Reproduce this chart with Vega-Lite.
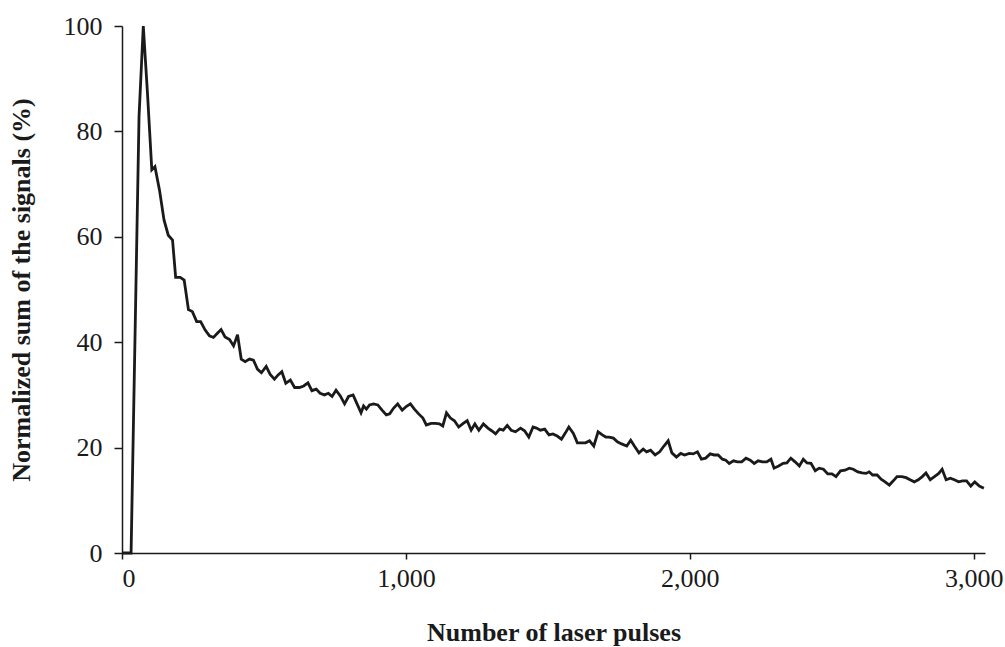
{
  "$schema": "https://vega.github.io/schema/vega-lite/v6.json",
  "width": 863,
  "height": 527,
  "autosize": {"type": "none"},
  "padding": {"left": 122, "top": 26, "right": 20, "bottom": 94},
  "background": "white",
  "config": {
    "view": {"stroke": null},
    "font": "Liberation Serif",
    "axis": {
      "grid": false,
      "domainColor": "#1a1a1a",
      "domainWidth": 1.5,
      "tickColor": "#1a1a1a",
      "tickWidth": 1.5,
      "tickSize": 8,
      "labelFont": "Liberation Serif",
      "labelFontSize": 26,
      "labelColor": "#1a1a1a",
      "titleFont": "Liberation Serif",
      "titleFontSize": 26,
      "titleFontWeight": "bold",
      "titleColor": "#1a1a1a"
    }
  },
  "data": {
    "values": [
      {"pulses": 0, "signal": 0}, {"pulses": 15, "signal": 0}, {"pulses": 32, "signal": 0},
      {"pulses": 60, "signal": 82.8}, {"pulses": 75, "signal": 100}, {"pulses": 90, "signal": 87},
      {"pulses": 105, "signal": 72.7}, {"pulses": 116, "signal": 73.3}, {"pulses": 132, "signal": 68.9},
      {"pulses": 148, "signal": 63.2}, {"pulses": 163, "signal": 60.3}, {"pulses": 178, "signal": 59.4},
      {"pulses": 189, "signal": 52.3}, {"pulses": 205, "signal": 52.3}, {"pulses": 219, "signal": 51.8},
      {"pulses": 234, "signal": 46.2}, {"pulses": 248, "signal": 45.8}, {"pulses": 263, "signal": 43.9},
      {"pulses": 277, "signal": 43.9}, {"pulses": 293, "signal": 42.3}, {"pulses": 308, "signal": 41.2},
      {"pulses": 322, "signal": 40.9}, {"pulses": 336, "signal": 41.7}, {"pulses": 349, "signal": 42.4},
      {"pulses": 363, "signal": 41.0}, {"pulses": 379, "signal": 40.5}, {"pulses": 393, "signal": 39.3},
      {"pulses": 407, "signal": 41.4}, {"pulses": 420, "signal": 36.8}, {"pulses": 434, "signal": 36.3},
      {"pulses": 449, "signal": 36.8}, {"pulses": 463, "signal": 36.6}, {"pulses": 477, "signal": 34.9},
      {"pulses": 491, "signal": 34.2}, {"pulses": 508, "signal": 35.4}, {"pulses": 522, "signal": 33.9},
      {"pulses": 537, "signal": 33.0}, {"pulses": 550, "signal": 33.8}, {"pulses": 563, "signal": 34.4},
      {"pulses": 577, "signal": 32.2}, {"pulses": 593, "signal": 32.8}, {"pulses": 608, "signal": 31.4},
      {"pulses": 625, "signal": 31.4}, {"pulses": 640, "signal": 31.7}, {"pulses": 655, "signal": 32.3},
      {"pulses": 669, "signal": 30.8}, {"pulses": 684, "signal": 31.1}, {"pulses": 698, "signal": 30.3},
      {"pulses": 713, "signal": 30.0}, {"pulses": 727, "signal": 30.3}, {"pulses": 740, "signal": 29.7},
      {"pulses": 754, "signal": 30.9}, {"pulses": 769, "signal": 29.8}, {"pulses": 784, "signal": 28.3},
      {"pulses": 798, "signal": 29.7}, {"pulses": 814, "signal": 30.0}, {"pulses": 828, "signal": 28.3},
      {"pulses": 842, "signal": 26.6}, {"pulses": 851, "signal": 27.9}, {"pulses": 861, "signal": 27.3},
      {"pulses": 872, "signal": 28.1}, {"pulses": 886, "signal": 28.3}, {"pulses": 901, "signal": 28.1},
      {"pulses": 916, "signal": 27.1}, {"pulses": 931, "signal": 26.2}, {"pulses": 943, "signal": 26.4},
      {"pulses": 957, "signal": 27.5}, {"pulses": 971, "signal": 28.3}, {"pulses": 987, "signal": 27.1},
      {"pulses": 1001, "signal": 27.8}, {"pulses": 1016, "signal": 28.3}, {"pulses": 1030, "signal": 27.3},
      {"pulses": 1045, "signal": 26.4}, {"pulses": 1060, "signal": 25.6}, {"pulses": 1072, "signal": 24.3},
      {"pulses": 1089, "signal": 24.6}, {"pulses": 1104, "signal": 24.6}, {"pulses": 1118, "signal": 24.5},
      {"pulses": 1130, "signal": 24.1}, {"pulses": 1143, "signal": 26.6}, {"pulses": 1157, "signal": 25.6},
      {"pulses": 1171, "signal": 25.1}, {"pulses": 1186, "signal": 23.9}, {"pulses": 1202, "signal": 24.6},
      {"pulses": 1216, "signal": 25.1}, {"pulses": 1230, "signal": 23.3}, {"pulses": 1243, "signal": 24.5},
      {"pulses": 1257, "signal": 23.3}, {"pulses": 1273, "signal": 24.5}, {"pulses": 1289, "signal": 23.7},
      {"pulses": 1302, "signal": 23.2}, {"pulses": 1316, "signal": 22.6}, {"pulses": 1330, "signal": 23.5},
      {"pulses": 1343, "signal": 23.3}, {"pulses": 1357, "signal": 24.2}, {"pulses": 1371, "signal": 23.3},
      {"pulses": 1386, "signal": 23.0}, {"pulses": 1404, "signal": 23.7}, {"pulses": 1418, "signal": 23.2},
      {"pulses": 1433, "signal": 22.0}, {"pulses": 1448, "signal": 23.9}, {"pulses": 1460, "signal": 23.7},
      {"pulses": 1474, "signal": 23.3}, {"pulses": 1489, "signal": 23.5}, {"pulses": 1504, "signal": 22.4},
      {"pulses": 1518, "signal": 22.6}, {"pulses": 1533, "signal": 22.2}, {"pulses": 1548, "signal": 21.6},
      {"pulses": 1562, "signal": 22.8}, {"pulses": 1574, "signal": 23.9}, {"pulses": 1590, "signal": 22.7},
      {"pulses": 1604, "signal": 20.9}, {"pulses": 1619, "signal": 20.9}, {"pulses": 1633, "signal": 20.9},
      {"pulses": 1647, "signal": 21.3}, {"pulses": 1662, "signal": 20.3}, {"pulses": 1677, "signal": 23.0},
      {"pulses": 1692, "signal": 22.4}, {"pulses": 1704, "signal": 22.0}, {"pulses": 1716, "signal": 22.0},
      {"pulses": 1731, "signal": 21.8}, {"pulses": 1745, "signal": 21.1}, {"pulses": 1760, "signal": 20.7},
      {"pulses": 1778, "signal": 20.3}, {"pulses": 1792, "signal": 21.4}, {"pulses": 1806, "signal": 20.2},
      {"pulses": 1821, "signal": 19.0}, {"pulses": 1836, "signal": 19.7}, {"pulses": 1848, "signal": 19.2},
      {"pulses": 1862, "signal": 19.5}, {"pulses": 1878, "signal": 18.6}, {"pulses": 1894, "signal": 19.2},
      {"pulses": 1909, "signal": 20.3}, {"pulses": 1924, "signal": 21.3}, {"pulses": 1937, "signal": 19.0},
      {"pulses": 1953, "signal": 18.2}, {"pulses": 1968, "signal": 18.9}, {"pulses": 1982, "signal": 18.6},
      {"pulses": 1998, "signal": 18.9}, {"pulses": 2012, "signal": 18.8}, {"pulses": 2027, "signal": 19.2},
      {"pulses": 2041, "signal": 17.8}, {"pulses": 2056, "signal": 18.0}, {"pulses": 2072, "signal": 18.8},
      {"pulses": 2086, "signal": 18.6}, {"pulses": 2100, "signal": 18.6}, {"pulses": 2115, "signal": 17.8},
      {"pulses": 2127, "signal": 17.6}, {"pulses": 2139, "signal": 17.0}, {"pulses": 2154, "signal": 17.5},
      {"pulses": 2168, "signal": 17.3}, {"pulses": 2183, "signal": 17.3}, {"pulses": 2198, "signal": 18.0},
      {"pulses": 2213, "signal": 17.6}, {"pulses": 2227, "signal": 17.0}, {"pulses": 2241, "signal": 17.5},
      {"pulses": 2256, "signal": 17.3}, {"pulses": 2271, "signal": 17.3}, {"pulses": 2286, "signal": 17.8},
      {"pulses": 2297, "signal": 16.1}, {"pulses": 2313, "signal": 16.5}, {"pulses": 2329, "signal": 17.0},
      {"pulses": 2342, "signal": 17.1}, {"pulses": 2356, "signal": 18.0}, {"pulses": 2371, "signal": 17.3},
      {"pulses": 2386, "signal": 16.5}, {"pulses": 2400, "signal": 17.8}, {"pulses": 2413, "signal": 17.1},
      {"pulses": 2427, "signal": 17.0}, {"pulses": 2442, "signal": 15.6}, {"pulses": 2456, "signal": 16.1},
      {"pulses": 2471, "signal": 15.9}, {"pulses": 2486, "signal": 15.0}, {"pulses": 2501, "signal": 15.0},
      {"pulses": 2515, "signal": 14.5}, {"pulses": 2531, "signal": 15.6}, {"pulses": 2547, "signal": 15.7},
      {"pulses": 2562, "signal": 16.1}, {"pulses": 2576, "signal": 15.9}, {"pulses": 2592, "signal": 15.4},
      {"pulses": 2607, "signal": 15.2}, {"pulses": 2621, "signal": 15.1}, {"pulses": 2632, "signal": 15.4},
      {"pulses": 2644, "signal": 14.8}, {"pulses": 2660, "signal": 14.8}, {"pulses": 2674, "signal": 14.0},
      {"pulses": 2688, "signal": 13.5}, {"pulses": 2703, "signal": 12.9}, {"pulses": 2717, "signal": 13.7},
      {"pulses": 2730, "signal": 14.5}, {"pulses": 2747, "signal": 14.5}, {"pulses": 2762, "signal": 14.3},
      {"pulses": 2776, "signal": 13.9}, {"pulses": 2791, "signal": 13.5}, {"pulses": 2805, "signal": 13.9},
      {"pulses": 2819, "signal": 14.5}, {"pulses": 2832, "signal": 15.2}, {"pulses": 2847, "signal": 13.9},
      {"pulses": 2862, "signal": 14.5}, {"pulses": 2877, "signal": 15.1}, {"pulses": 2889, "signal": 15.9},
      {"pulses": 2903, "signal": 13.9}, {"pulses": 2918, "signal": 14.2}, {"pulses": 2932, "signal": 13.9},
      {"pulses": 2947, "signal": 13.5}, {"pulses": 2961, "signal": 13.7}, {"pulses": 2975, "signal": 13.7},
      {"pulses": 2990, "signal": 12.7}, {"pulses": 3004, "signal": 13.5}, {"pulses": 3020, "signal": 12.7},
      {"pulses": 3036, "signal": 12.3}
    ]
  },
  "mark": {"type": "line", "color": "#1a1a1a", "strokeWidth": 2.8, "strokeJoin": "miter", "clip": false},
  "encoding": {
    "x": {
      "field": "pulses",
      "type": "quantitative",
      "scale": {"domain": [0, 3040], "nice": false, "zero": true},
      "axis": {
        "title": "Number of laser pulses",
        "values": [0, 1000, 2000, 3000],
        "format": ",d",
        "tickSize": 6,
        "labelPadding": 6,
        "titlePadding": 28
      }
    },
    "y": {
      "field": "signal",
      "type": "quantitative",
      "scale": {"domain": [0, 100], "nice": false},
      "axis": {
        "title": "Normalized sum of the signals (%)",
        "values": [0, 20, 40, 60, 80, 100],
        "tickSize": 8,
        "labelPadding": 12,
        "titlePadding": 29
      }
    }
  }
}
